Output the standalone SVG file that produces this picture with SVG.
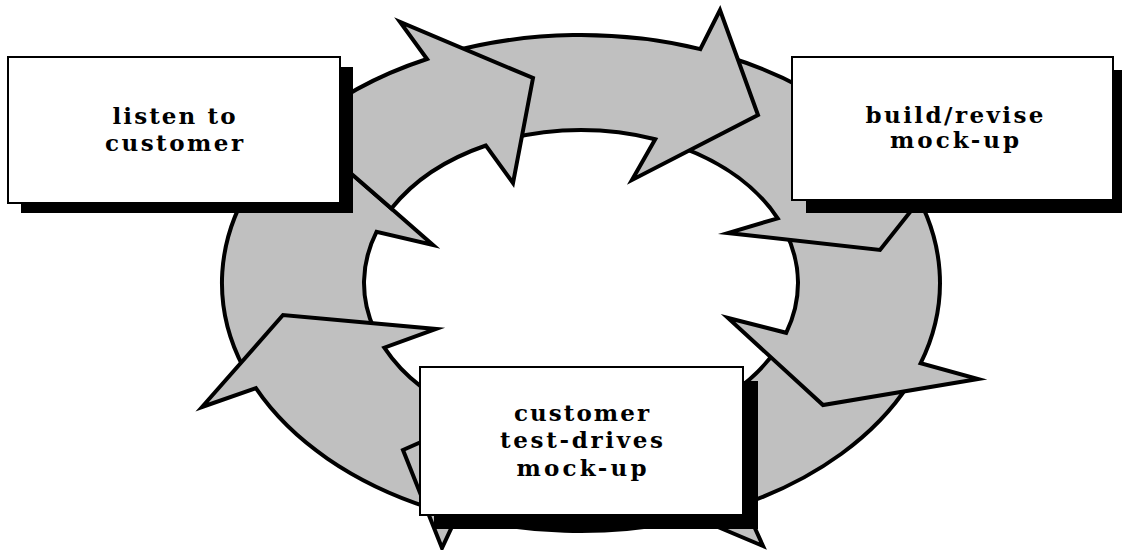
<svg xmlns="http://www.w3.org/2000/svg" width="1122" height="550" viewBox="0 0 1122 550">
<style>
.arr{fill:#c0c0c0;stroke:#000;stroke-width:4;stroke-linejoin:miter;stroke-miterlimit:12}
.shadow{fill:#000}
.box{fill:#fff;stroke:#000;stroke-width:2}
.lbl{font-family:"DejaVu Serif","Liberation Serif",serif;font-weight:bold;font-size:23px;fill:#000;text-anchor:middle}
</style>
<rect width="1122" height="550" fill="#fff"/>
<g id="connectors">
<path id="arrow-g" class="arr" d="M374.6,330.3 L243.6,367.8 A359,248 0 0 1 255.6,178.2 L228,165 L337,161 L433,245 L376.5,231.9 A217,153 0 0 0 374.6,330.3 Z"/>
<path id="arrow-f" class="arr" d="M472.5,415.5 L429.3,507.8 A359,248 0 0 1 255.9,388.2 L202,407 L283,315 L436,329 L384.3,347.7 A217,153 0 0 0 472.5,415.5 Z"/>
<path id="arrow-e2" class="arr" d="M637.2,430.8 L673.9,522.5 A359,248 0 0 1 457,515.8 L442,548 L403,450 L505,405 L506.8,426.8 A217,153 0 0 0 637.2,430.8 Z"/>
<path id="arrow-e1" class="arr" d="M779.2,345.2 L909,383.9 A359,248 0 0 1 744,504 L763,546 L628,489 L690,388 L662.3,424.9 A217,153 0 0 0 779.2,345.2 Z"/>
<path id="arrow-d" class="arr" d="M784.9,230.7 L906.4,178.2 A359,248 0 0 1 920.6,363.3 L978,379 L823,405 L728,318 L786.2,332.8 A217,153 0 0 0 784.9,230.7 Z"/>
<path id="arrow-c" class="arr" d="M682.9,147.9 L727,56.5 A359,248 0 0 1 913.9,190.1 L945,168 L880,250 L728,233 L777.7,218.3 A217,153 0 0 0 682.9,147.9 Z"/>
<path id="arrow-b" class="arr" d="M506.8,139.2 L446.5,53.1 A359,248 0 0 1 700.3,49.1 L720,10 L758,115 L632,180 L655.2,139.2 A217,153 0 0 0 506.8,139.2 Z"/>
<path id="arrow-a" class="arr" d="M391.4,208.6 L299.7,129 A359,248 0 0 1 427,59 L400,22 L533,78 L513,183 L485.9,145.5 A217,153 0 0 0 391.4,208.6 Z"/>
</g>
<g id="node-listen">
<rect class="shadow" x="21" y="67" width="332" height="146"/>
<rect class="box" x="8" y="57" width="332" height="146"/>
<text class="lbl" x="174" y="124" textLength="123" lengthAdjust="spacing">listen to</text>
<text class="lbl" x="174" y="150.7" textLength="138" lengthAdjust="spacing">customer</text>
</g>
<g id="node-build">
<rect class="shadow" x="806" y="70" width="321" height="143"/>
<rect class="box" x="792" y="57" width="321" height="143"/>
<text class="lbl" x="954.5" y="122.7" textLength="178" lengthAdjust="spacing">build/revise</text>
<text class="lbl" x="954.5" y="148.3" textLength="129" lengthAdjust="spacing">mock-up</text>
</g>
<g id="node-test">
<rect class="shadow" x="434" y="381" width="324" height="148"/>
<rect class="box" x="420" y="367" width="323" height="148"/>
<text class="lbl" x="581.5" y="421" textLength="135" lengthAdjust="spacing">customer</text>
<text class="lbl" x="581.5" y="448.3" textLength="163" lengthAdjust="spacing">test-drives</text>
<text class="lbl" x="581.5" y="475.7" textLength="130" lengthAdjust="spacing">mock-up</text>
</g>
</svg>
